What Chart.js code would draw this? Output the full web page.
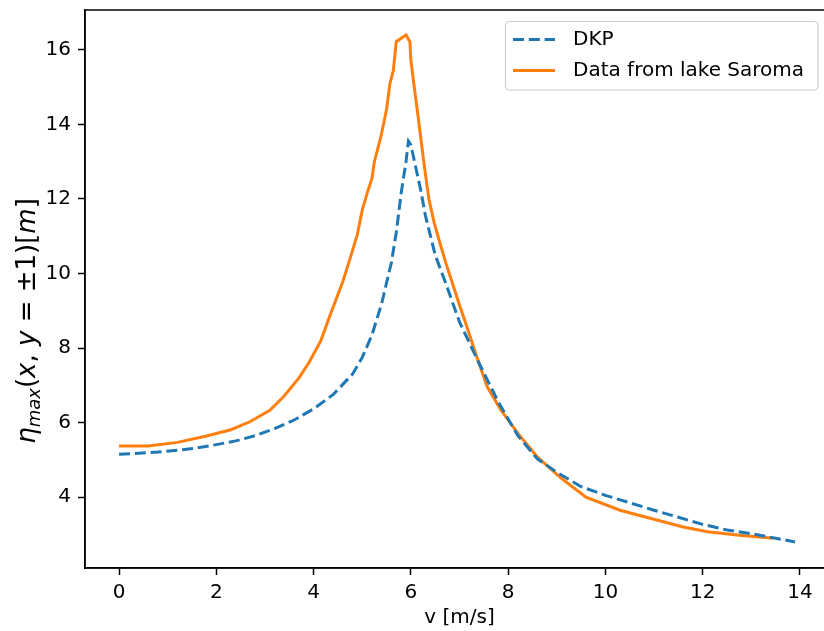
<!DOCTYPE html>
<html>
<head>
<meta charset="utf-8">
<script src="https://cdn.jsdelivr.net/npm/chart.js@4.4.0/dist/chart.umd.min.js"></script>
<style>
  html, body { margin: 0; padding: 0; background: #fff; overflow: hidden; }
  #wrap { width: 824px; height: 631px; overflow: hidden; position: relative; }
  #box { width: 840px; height: 631px; }
</style>
</head>
<body>
<div id="wrap"><div id="box"><canvas id="chart"></canvas></div></div>
<script>
// DKP model curve
const dkpV = [0, 0.4, 0.8, 1.2, 1.6, 2.0, 2.4, 2.8, 3.2, 3.6, 4.0, 4.4, 4.8, 5.0, 5.2, 5.4, 5.6, 5.7, 5.8, 5.9, 5.95, 6.0, 6.1, 6.2, 6.3, 6.5, 6.7, 7.0, 7.4, 7.8, 8.2, 8.6, 9.0, 9.5, 10, 10.5, 11, 11.5, 12, 12.5, 13, 13.5, 13.9];
const dkpEta = [5.15, 5.18, 5.21, 5.26, 5.32, 5.41, 5.51, 5.65, 5.84, 6.07, 6.37, 6.75, 7.30, 7.75, 8.35, 9.20, 10.30, 11.10, 12.15, 13.0, 13.55, 13.45, 12.85, 12.25, 11.55, 10.50, 9.80, 8.70, 7.60, 6.55, 5.65, 5.03, 4.67, 4.28, 4.05, 3.85, 3.65, 3.46, 3.27, 3.12, 3.02, 2.90, 2.80];

// measured data, lake Saroma
const sarV = [0, 0.6, 1.2, 1.8, 2.3, 2.7, 3.1, 3.4, 3.7, 3.9, 4.15, 4.35, 4.6, 4.75, 4.9, 5.0, 5.1, 5.2, 5.25, 5.38, 5.5, 5.57, 5.64, 5.7, 5.9, 5.98, 6.0, 6.07, 6.17, 6.27, 6.37, 6.48, 6.58, 6.72, 6.88, 7.0, 7.13, 7.33, 7.57, 7.85, 8.2, 8.6, 9.1, 9.6, 10.3, 10.9, 11.6, 12.1, 12.75, 13.45];
const sarEta = [5.37, 5.37, 5.47, 5.64, 5.81, 6.03, 6.33, 6.72, 7.20, 7.60, 8.20, 8.92, 9.78, 10.40, 11.05, 11.70, 12.15, 12.55, 13.00, 13.65, 14.40, 15.10, 15.45, 16.22, 16.40, 16.22, 15.73, 15.00, 14.00, 12.95, 12.00, 11.36, 10.90, 10.28, 9.64, 9.15, 8.66, 7.86, 6.96, 6.34, 5.71, 5.08, 4.50, 4.00, 3.65, 3.44, 3.20, 3.07, 2.98, 2.90];

const xTicks = [0, 2, 4, 6, 8, 10, 12, 14];
const yTicks = [4, 6, 8, 10, 12, 14, 16];

const FONT = "'DejaVu Sans', sans-serif";
const FS = 20;

function pts(xs, ys) {
    return xs.map((x, i) => ({ x: x, y: ys[i] }));
}

// axes frame (matplotlib spines)
const framePlugin = {
    id: 'frame',
    afterDatasetsDraw(chart) {
        const a = chart.chartArea;
        const ctx = chart.ctx;
        ctx.save();
        ctx.strokeStyle = '#000';
        ctx.lineWidth = 1.5;
        ctx.strokeRect(a.left, a.top, a.right - a.left, a.bottom - a.top);
        ctx.restore();
    }
};

// legend box in the upper right corner
const legendPlugin = {
    id: 'mplLegend',
    afterDraw(chart) {
        const ctx = chart.ctx;
        const x0 = 505.5, y0 = 21.5, w = 312.5, h = 68.5, r = 4;
        ctx.save();
        ctx.beginPath();
        ctx.roundRect(x0, y0, w, h, r);
        ctx.fillStyle = 'rgba(255,255,255,0.8)';
        ctx.fill();
        ctx.strokeStyle = '#cccccc';
        ctx.lineWidth = 1.2;
        ctx.stroke();
        const rows = [39.5, 70.5];
        chart.data.datasets.forEach((ds, i) => {
            const y = rows[i];
            ctx.beginPath();
            ctx.setLineDash(ds.borderDash || []);
            ctx.strokeStyle = ds.borderColor;
            ctx.lineWidth = ds.borderWidth;
            ctx.moveTo(513, y);
            ctx.lineTo(555, y);
            ctx.stroke();
            ctx.setLineDash([]);
            ctx.fillStyle = '#000';
            ctx.font = FS + 'px ' + FONT;
            ctx.textBaseline = 'middle';
            ctx.textAlign = 'left';
            ctx.fillText(ds.label, 573, y);
        });
        ctx.restore();
    }
};

// y label with math-style italics and subscript
const yLabelPlugin = {
    id: 'yLabel',
    afterDraw(chart) {
        const ctx = chart.ctx;
        const LS = 26;
        const parts = [
            { t: 'η', it: true },
            { t: 'max', it: true, sub: true },
            { t: '(', it: false },
            { t: 'x', it: true },
            { t: ', ', it: false },
            { t: 'y', it: true },
            { t: ' = ±1)[', it: false },
            { t: 'm', it: true },
            { t: ']', it: false }
        ];
        const fontOf = p => (p.it ? 'italic ' : '') + (p.sub ? Math.round(LS * 0.7) : LS) + 'px ' + FONT;
        let total = 0;
        parts.forEach(p => { ctx.font = fontOf(p); p.w = ctx.measureText(p.t).width; total += p.w; });
        ctx.save();
        ctx.translate(35, 321);
        ctx.rotate(-Math.PI / 2);
        ctx.fillStyle = '#000';
        ctx.textBaseline = 'alphabetic';
        ctx.textAlign = 'left';
        let x = -total / 2;
        parts.forEach(p => {
            ctx.font = fontOf(p);
            ctx.fillText(p.t, x, p.sub ? 5 : 0);
            x += p.w;
        });
        ctx.restore();
    }
};

const ctx = document.getElementById('chart').getContext('2d');

const config = {
    type: 'line',
    data: {
        datasets: [{
            label: 'DKP',
            data: pts(dkpV, dkpEta),
            borderColor: '#1f77b4',
            borderWidth: 3,
            borderDash: [11, 4.8],
            pointRadius: 0,
            tension: 0,
            fill: false,
        }, {
            label: 'Data from lake Saroma',
            data: pts(sarV, sarEta),
            borderColor: '#ff7f0e',
            borderWidth: 3,
            pointRadius: 0,
            tension: 0,
            fill: false,
        }],
    },
    options: {
        responsive: true,
        maintainAspectRatio: false,
        animation: false,
        events: [],
        layout: { padding: { top: 10, right: 6, left: 0, bottom: 0 } },
        plugins: {
            legend: { display: false },
            tooltip: { enabled: false },
        },
        scales: {
            x: {
                type: 'linear',
                min: -0.7,
                max: 14.7,
                afterBuildTicks: s => { s.ticks = xTicks.map(v => ({ value: v })); },
                afterFit: s => { s.height = 63; s.paddingLeft = 0; s.paddingRight = 0; },
                ticks: {
                    color: '#000',
                    font: { family: FONT, size: FS },
                    padding: 6,
                    maxRotation: 0,
                },
                grid: {
                    drawOnChartArea: false,
                    tickLength: 7,
                    tickColor: '#000',
                    tickWidth: 1.5,
                },
                border: { color: '#000', width: 1.5 },
                title: {
                    display: true,
                    text: 'v [m/s]',
                    color: '#000',
                    font: { family: FONT, size: FS },
                    padding: { top: 0, bottom: 1 },
                },
            },
            y: {
                min: 2.1,
                max: 17.07,
                afterBuildTicks: s => { s.ticks = yTicks.map(v => ({ value: v })); },
                afterFit: s => { s.width = 85; s.paddingTop = 0; s.paddingBottom = 0; },
                ticks: {
                    color: '#000',
                    font: { family: FONT, size: FS },
                    padding: 7,
                },
                grid: {
                    drawOnChartArea: false,
                    tickLength: 7,
                    tickColor: '#000',
                    tickWidth: 1.5,
                },
                border: { color: '#000', width: 1.5 },
            },
        },
    },
    plugins: [framePlugin, legendPlugin, yLabelPlugin],
};

const chart = new Chart(ctx, config);
</script>
</body>
</html>
